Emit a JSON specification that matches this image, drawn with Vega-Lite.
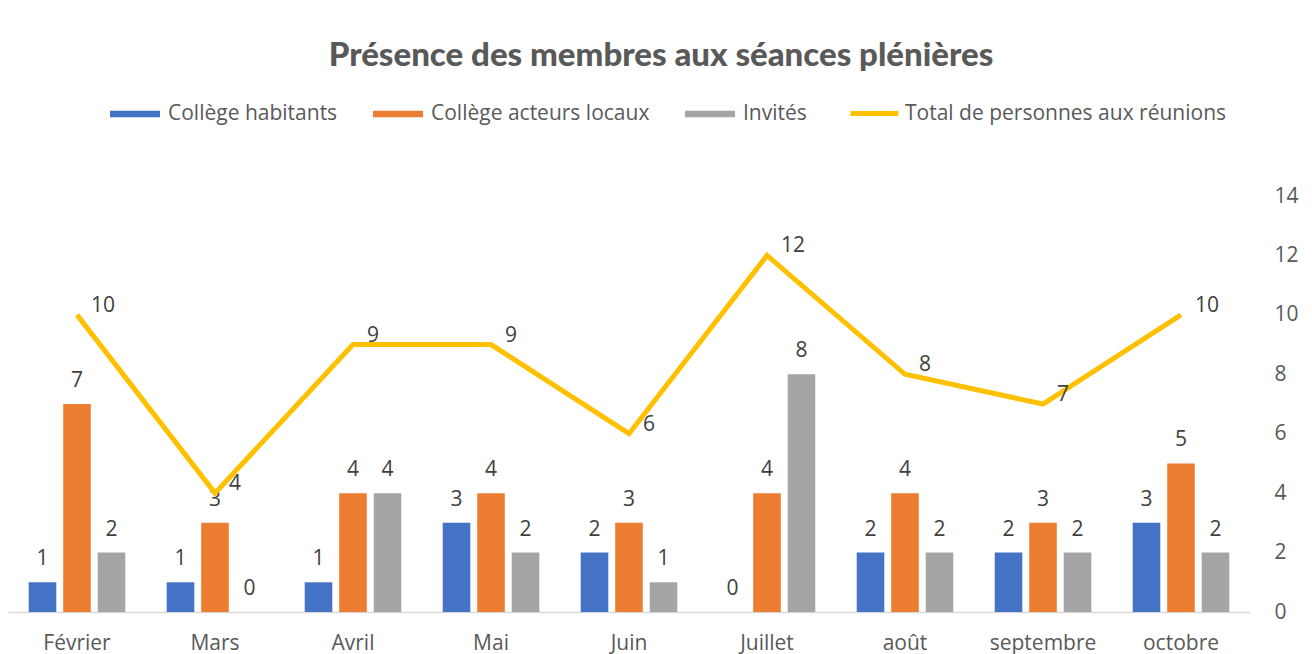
{
  "$schema": "https://vega.github.io/schema/vega-lite/v6.json",
  "width": 1242,
  "height": 416,
  "autosize": {"type": "none"},
  "padding": {"left": 8, "top": 196, "right": 62, "bottom": 42},
  "background": "white",
  "config": {"view": {"stroke": null}, "font": "Open Sans"},
  "title": {
    "text": "Présence des membres aux séances plénières",
    "font": "Lato",
    "fontWeight": 900,
    "fontSize": 33,
    "color": "#595959",
    "anchor": "middle",
    "offset": 14,
    "dx": 32
  },
  "data": {
    "values": [
      {"mois": "Février", "serie": "Collège habitants", "valeur": 1},
      {"mois": "Février", "serie": "Collège acteurs locaux", "valeur": 7},
      {"mois": "Février", "serie": "Invités", "valeur": 2},
      {"mois": "Février", "serie": "Total de personnes aux réunions", "valeur": 10},
      {"mois": "Mars", "serie": "Collège habitants", "valeur": 1},
      {"mois": "Mars", "serie": "Collège acteurs locaux", "valeur": 3},
      {"mois": "Mars", "serie": "Invités", "valeur": 0},
      {"mois": "Mars", "serie": "Total de personnes aux réunions", "valeur": 4},
      {"mois": "Avril", "serie": "Collège habitants", "valeur": 1},
      {"mois": "Avril", "serie": "Collège acteurs locaux", "valeur": 4},
      {"mois": "Avril", "serie": "Invités", "valeur": 4},
      {"mois": "Avril", "serie": "Total de personnes aux réunions", "valeur": 9},
      {"mois": "Mai", "serie": "Collège habitants", "valeur": 3},
      {"mois": "Mai", "serie": "Collège acteurs locaux", "valeur": 4},
      {"mois": "Mai", "serie": "Invités", "valeur": 2},
      {"mois": "Mai", "serie": "Total de personnes aux réunions", "valeur": 9},
      {"mois": "Juin", "serie": "Collège habitants", "valeur": 2},
      {"mois": "Juin", "serie": "Collège acteurs locaux", "valeur": 3},
      {"mois": "Juin", "serie": "Invités", "valeur": 1},
      {"mois": "Juin", "serie": "Total de personnes aux réunions", "valeur": 6},
      {"mois": "Juillet", "serie": "Collège habitants", "valeur": 0},
      {"mois": "Juillet", "serie": "Collège acteurs locaux", "valeur": 4},
      {"mois": "Juillet", "serie": "Invités", "valeur": 8},
      {"mois": "Juillet", "serie": "Total de personnes aux réunions", "valeur": 12},
      {"mois": "août", "serie": "Collège habitants", "valeur": 2},
      {"mois": "août", "serie": "Collège acteurs locaux", "valeur": 4},
      {"mois": "août", "serie": "Invités", "valeur": 2},
      {"mois": "août", "serie": "Total de personnes aux réunions", "valeur": 8},
      {"mois": "septembre", "serie": "Collège habitants", "valeur": 2},
      {"mois": "septembre", "serie": "Collège acteurs locaux", "valeur": 3},
      {"mois": "septembre", "serie": "Invités", "valeur": 2},
      {"mois": "septembre", "serie": "Total de personnes aux réunions", "valeur": 7},
      {"mois": "octobre", "serie": "Collège habitants", "valeur": 3},
      {"mois": "octobre", "serie": "Collège acteurs locaux", "valeur": 5},
      {"mois": "octobre", "serie": "Invités", "valeur": 2},
      {"mois": "octobre", "serie": "Total de personnes aux réunions", "valeur": 10}
    ]
  },
  "encoding": {
    "x": {
      "field": "mois",
      "type": "nominal",
      "sort": ["Février", "Mars", "Avril", "Mai", "Juin", "Juillet", "août", "septembre", "octobre"],
      "scale": {"paddingInner": 0.3, "paddingOuter": 0.15},
      "axis": {
        "title": null,
        "orient": "bottom",
        "labelAngle": 0,
        "labelFontSize": 21,
        "labelColor": "#595959",
        "labelPadding": 20,
        "ticks": false,
        "domain": true,
        "domainColor": "#D9D9D9",
        "domainWidth": 1.5,
        "grid": false
      }
    },
    "y": {
      "field": "valeur",
      "type": "quantitative",
      "scale": {"domain": [0, 14], "nice": false},
      "axis": {
        "title": null,
        "orient": "right",
        "values": [0, 2, 4, 6, 8, 10, 12, 14],
        "labelFontSize": 21,
        "labelColor": "#595959",
        "labelPadding": 24,
        "ticks": false,
        "domain": false,
        "grid": false
      }
    }
  },
  "layer": [
    {
      "transform": [{"filter": "datum.serie !== 'Total de personnes aux réunions'"}],
      "mark": {"type": "bar"},
      "encoding": {
        "xOffset": {
          "field": "serie",
          "type": "nominal",
          "sort": ["Collège habitants", "Collège acteurs locaux", "Invités"],
          "scale": {"paddingInner": 0.2, "paddingOuter": 0}
        },
        "fill": {
          "field": "serie",
          "type": "nominal",
          "sort": ["Collège habitants", "Collège acteurs locaux", "Invités"],
          "scale": {
            "domain": ["Collège habitants", "Collège acteurs locaux", "Invités"],
            "range": ["#4472C4", "#ED7D31", "#A5A5A5"]
          },
          "legend": {
            "title": null,
            "orient": "none",
            "legendX": 102,
            "legendY": -107,
            "direction": "horizontal",
            "columns": 3,
            "symbolType": "M-1,-0.13H1V0.13H-1Z",
            "symbolSize": 2500,
            "symbolStrokeWidth": 0,
            "labelFontSize": 21,
            "labelLimit": 500,
            "labelColor": "#595959",
            "labelOffset": 8,
            "columnPadding": 35
          }
        }
      }
    },
    {
      "transform": [{"filter": "datum.serie !== 'Total de personnes aux réunions'"}],
      "mark": {"type": "text", "baseline": "alphabetic", "dy": -17, "fontSize": 21, "color": "#404040"},
      "encoding": {
        "xOffset": {
          "field": "serie",
          "type": "nominal",
          "sort": ["Collège habitants", "Collège acteurs locaux", "Invités"],
          "scale": {"paddingInner": 0.2, "paddingOuter": 0}
        },
        "text": {"field": "valeur", "type": "quantitative"}
      }
    },
    {
      "transform": [{"filter": "datum.serie === 'Total de personnes aux réunions'"}],
      "mark": {"type": "line", "strokeWidth": 5},
      "encoding": {
        "stroke": {
          "field": "serie",
          "type": "nominal",
          "scale": {"domain": ["Total de personnes aux réunions"], "range": ["#FFC000"]},
          "legend": {
            "title": null,
            "orient": "none",
            "legendX": 840,
            "legendY": -109,
            "symbolType": "stroke",
            "symbolSize": 2300,
            "symbolStrokeWidth": 5,
            "labelFontSize": 21,
            "labelLimit": 500,
            "labelColor": "#595959",
            "labelOffset": 4
          }
        }
      }
    },
    {
      "transform": [{"filter": "datum.serie === 'Total de personnes aux réunions'"}],
      "mark": {"type": "text", "align": "left", "baseline": "middle", "dx": 14, "dy": -9, "fontSize": 21, "color": "#404040"},
      "encoding": {
        "text": {"field": "valeur", "type": "quantitative"}
      }
    }
  ],
  "resolve": {"scale": {"fill": "independent", "stroke": "independent"}}
}
